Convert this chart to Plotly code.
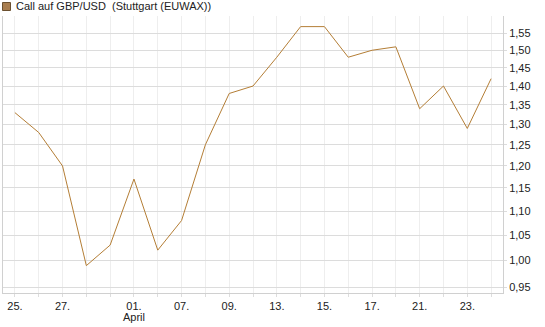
import plotly.graph_objects as go

# Data (one point per trading day shown on the chart)
x_index = list(range(21))
values = [1.33, 1.28, 1.20, 0.99, 1.03, 1.17, 1.02, 1.08, 1.25, 1.38, 1.40,
          1.48, 1.57, 1.57, 1.48, 1.50, 1.51, 1.34, 1.40, 1.29, 1.42]
tick_positions = [0, 2, 5, 7, 9, 11, 13, 15, 17, 19]
tick_labels = ["25.", "27.", "01.", "07.", "09.", "13.", "15.", "17.", "21.", "23."]
month_label = "April"
month_pos = 5
y_ticks = [0.95, 1.00, 1.05, 1.10, 1.15, 1.20, 1.25, 1.30, 1.35, 1.40, 1.45, 1.50, 1.55]
y_tick_text = [f"{v:.2f}".replace(".", ",") for v in y_ticks]
title_text = "Call auf GBP/USD  (Stuttgart (EUWAX))"

FONT = "Arial, 'Liberation Sans', sans-serif"
LINE_COLOR = "#b47e36"

all_ticktext = []
for i in x_index:
    if i in tick_positions:
        all_ticktext.append(tick_labels[tick_positions.index(i)])
    else:
        all_ticktext.append("")

fig = go.Figure()
fig.add_trace(go.Scatter(
    x=x_index, y=values, mode="lines",
    line=dict(color=LINE_COLOR, width=1),
    hoverinfo="skip", showlegend=False,
))

W, H = 545, 327
L, R, T, B = 3, 42, 16, 34
pw, ph = W - L - R, H - T - B

def px_x(px):
    return (px - L) / pw

def px_y(py):
    return (H - B - py) / ph

fig.update_layout(
    width=W, height=H,
    margin=dict(l=L, r=R, t=T, b=B, pad=0),
    paper_bgcolor="white", plot_bgcolor="white",
    font=dict(family=FONT, size=11, color="#222222"),
    xaxis=dict(
        range=[-0.5, 20.5],
        tickmode="array", tickvals=x_index, ticktext=all_ticktext,
        showgrid=True, gridcolor="#eeeeee", gridwidth=1,
        ticks="outside", ticklen=3, tickcolor="#dddddd",
        showline=True, linecolor="#d0d0d0", linewidth=1,
        zeroline=False, fixedrange=True,
        tickfont=dict(family=FONT, size=11, color="#222222"),
    ),
    yaxis=dict(
        type="log",
        range=[-0.0273, 0.2048],
        side="right",
        tickmode="array", tickvals=y_ticks, ticktext=y_tick_text,
        showgrid=True, gridcolor="#dcdcdc", gridwidth=1,
        ticks="outside", ticklen=3, tickcolor="#dcdcdc",
        showline=True, linecolor="#d0d0d0", linewidth=1, mirror=True,
        zeroline=False, fixedrange=True,
        tickfont=dict(family=FONT, size=11, color="#222222"),
    ),
    shapes=[dict(
        type="rect", xref="paper", yref="paper",
        x0=px_x(2.5), x1=px_x(10.5), y0=px_y(10.5), y1=px_y(2.5),
        fillcolor="#a87d4f", line=dict(color="#6b5030", width=1),
    )],
    annotations=[
        dict(text=title_text, xref="paper", yref="paper",
             x=px_x(14), y=px_y(6.5), xanchor="left", yanchor="middle",
             showarrow=False, font=dict(family=FONT, size=11, color="#222222")),
        dict(text=month_label, xref="x", yref="paper",
             x=month_pos, y=px_y(317), xanchor="center", yanchor="middle",
             showarrow=False, font=dict(family=FONT, size=11, color="#222222")),
    ],
)

fig.write_html("out.html")
